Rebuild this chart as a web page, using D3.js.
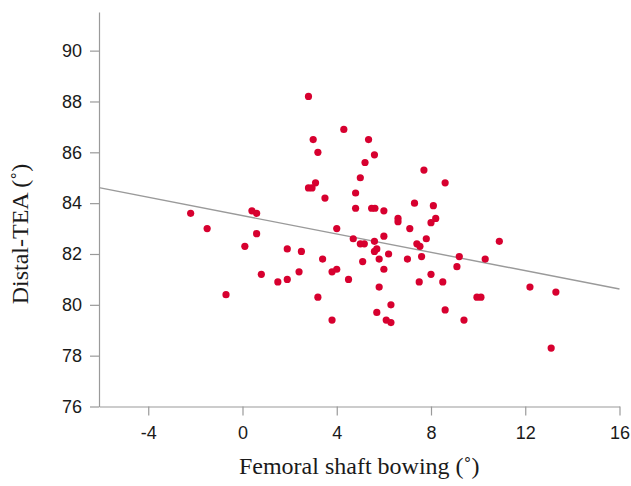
<!DOCTYPE html>
<html>
<head>
<meta charset="utf-8">
<script src="https://cdn.jsdelivr.net/npm/d3@7"></script>
<style>
  body { margin: 0; background: #fff; }
  .axis path, .axis line { stroke: #9a9a9a; stroke-width: 1.2; }
  .axis text { font-family: "Liberation Sans", Arial, sans-serif; font-size: 18px; fill: #1a1a1a; }
  .title { font-family: "Liberation Serif", "Times New Roman", serif; font-size: 24px; fill: #1a1a1a; }
</style>
</head>
<body>
<div id="chart"></div>
<script>
// femoral shaft bowing (deg) vs distal TEA (deg)
const bowing = [
  -2.2, -1.5, -0.7, 0.1, 0.4, 0.6, 0.6, 0.8, 1.5, 1.9, 1.9, 2.4, 2.5, 2.8, 2.8, 2.95,
  3.0, 3.1, 3.2, 3.2, 3.4, 3.5, 3.8, 3.8, 4.0, 4.0, 4.3, 4.5, 4.7, 4.8, 4.8, 5.0,
  5.0, 5.17, 5.1, 5.2, 5.35, 5.48, 5.62, 5.6, 5.6, 5.6, 5.7, 5.8, 5.8, 5.7, 6.0,
  6.0, 6.0, 6.2, 6.3, 6.1, 6.3, 6.6, 6.6, 7.0, 7.1, 7.3, 7.4, 7.53, 7.5, 7.6, 7.7,
  7.8, 8.0, 8.0, 8.1, 8.2, 8.5, 8.6, 8.6, 9.1, 9.2, 9.4, 9.95, 10.12, 10.3, 10.9,
  12.2, 13.3, 13.1
];
const distalTEA = [
  83.6, 83.0, 80.4, 82.3, 83.7, 83.6, 82.8, 81.2, 80.9, 82.2, 81.0, 81.3, 82.1, 88.2, 84.6, 84.6,
  86.5, 84.8, 86.0, 80.3, 81.8, 84.2, 81.3, 79.4, 83.0, 81.4, 86.9, 81.0, 82.6, 84.4, 83.8, 85.0,
  82.4, 82.4, 81.7, 85.6, 86.5, 83.8, 83.8, 85.9, 82.5, 82.1, 82.2, 81.8, 80.7, 79.7, 83.7,
  82.7, 81.4, 82.0, 80.0, 79.4, 79.3, 83.4, 83.27, 81.8, 83.0, 84.0, 82.4, 82.3, 80.9, 81.9, 85.3,
  82.6, 81.2, 83.23, 83.9, 83.4, 80.9, 84.8, 79.8, 81.5, 81.9, 79.4, 80.3, 80.3, 81.8, 82.5,
  80.7, 80.5, 78.3
];
const xTicks = [-4, 0, 4, 8, 12, 16];
const yTicks = [76, 78, 80, 82, 84, 86, 88, 90];
const fitIntercept = 83.51;
const fitSlope = -0.1806;

const width = 631;
const height = 486;
const margin = { top: 12, right: 11.5, bottom: 79.5, left: 99 };
const innerWidth = width - margin.left - margin.right;
const innerHeight = height - margin.top - margin.bottom;

const svg = d3
  .select("#chart")
  .append("svg")
  .attr("width", width)
  .attr("height", height);

const g = svg
  .append("g")
  .attr("transform", "translate(" + margin.left + "," + margin.top + ")");

const xScale = d3.scaleLinear().domain([-6.09, 16]).range([0, innerWidth]);
const yScale = d3.scaleLinear().domain([76, 91.52]).range([innerHeight, 0]);

// plain hyphen for negatives, like the original figure
const plain = function(d) { return String(d); };

const xAxis = d3.axisBottom(xScale).tickValues(xTicks).tickFormat(plain)
  .tickSize(9).tickSizeOuter(0).tickPadding(11);
const yAxis = d3.axisLeft(yScale).tickValues(yTicks).tickFormat(plain)
  .tickSize(9).tickSizeOuter(0).tickPadding(8);

g.append("g")
  .attr("class", "x axis")
  .attr("transform", "translate(0," + innerHeight + ")")
  .call(xAxis);

g.append("g").attr("class", "y axis").call(yAxis);

// fit line across the whole x range
const fitLine = d3
  .line()
  .x(function(d) { return xScale(d); })
  .y(function(d) { return yScale(fitIntercept + fitSlope * d); });

g.append("path")
  .attr("d", fitLine(xScale.domain()))
  .attr("fill", "none")
  .attr("stroke", "#9a9a9a")
  .attr("stroke-width", 1.4);

const points = bowing.map(function(x, i) {
  return { x: x, y: distalTEA[i] };
});

g.selectAll("circle")
  .data(points)
  .enter()
  .append("circle")
  .attr("cx", function(d) { return xScale(d.x); })
  .attr("cy", function(d) { return yScale(d.y); })
  .attr("r", 3.6)
  .attr("fill", "#d7002f");

svg.append("text")
  .attr("class", "title")
  .attr("x", margin.left + innerWidth / 2)
  .attr("y", 474)
  .attr("text-anchor", "middle")
  .text("Femoral shaft bowing (˚)");

svg.append("text")
  .attr("class", "title")
  .attr("transform", "translate(28,234) rotate(-90)")
  .attr("text-anchor", "middle")
  .text("Distal-TEA (˚)");
</script>
</body>
</html>
